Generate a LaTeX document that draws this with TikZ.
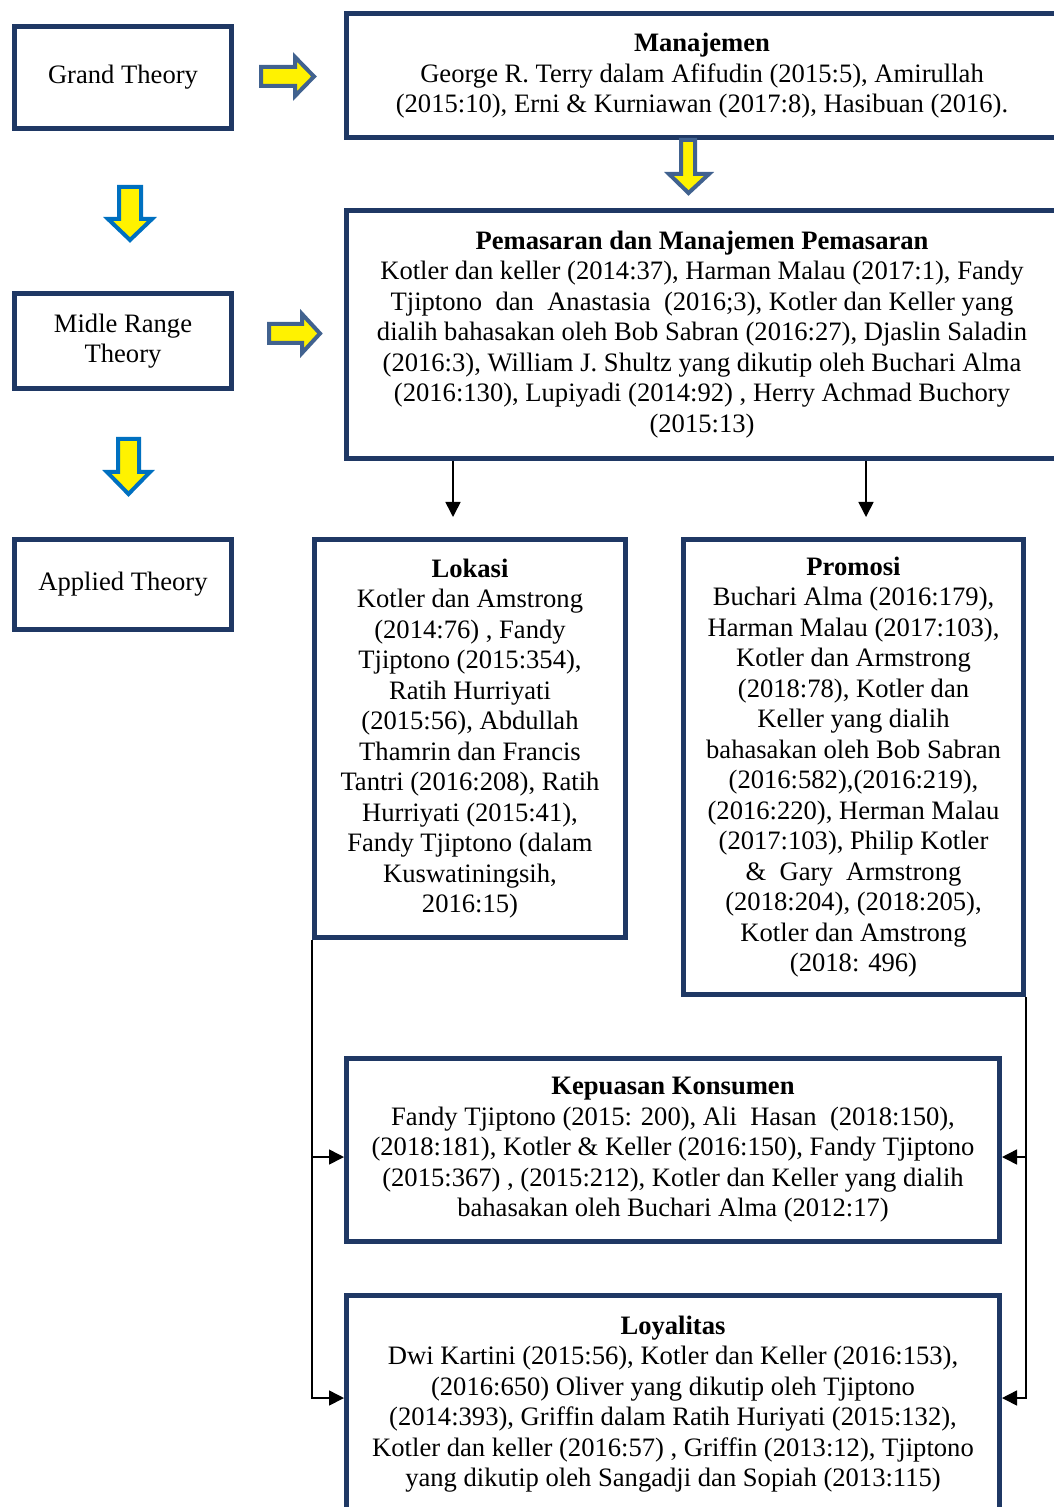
\documentclass[tikz,border=0pt]{standalone}
\usepackage{fontspec}
\setmainfont{Liberation Serif}
\usetikzlibrary{arrows.meta}
\definecolor{boxnavy}{RGB}{31,56,100}
\definecolor{arrowslate}{RGB}{65,98,143}
\definecolor{arrowblue}{RGB}{0,112,192}
\tikzset{
  theorybox/.style={draw=boxnavy, line width=2.5pt, align=center, inner sep=0pt,
    font=\fontsize{13.3}{15.25}\selectfont},
  blockright/.style={draw=arrowslate, fill=yellow, line width=2pt, line join=miter},
  blockdown/.style={draw=arrowblue, fill=yellow, line width=2pt, line join=miter},
  link/.style={line width=0.8pt, -{Triangle[length=7.5pt,width=7.5pt]}}
}
\begin{document}
\begin{tikzpicture}[x=0.5pt, y=-0.5pt]
    \useasboundingbox (0,0) rectangle (1053,1507);

    % theory levels
    \node[theorybox, minimum width=108.5pt, minimum height=51pt] (grand) at (123,77.5) {Grand Theory};
    \node[theorybox, minimum width=108.5pt, minimum height=47.5pt] (midle) at (123,341) {Midle Range\\Theory};
    \node[theorybox, minimum width=108.5pt, minimum height=45pt] (applied) at (123,584.5) {Applied Theory};

    \draw[blockdown] (119,187) -- (141,187) -- (141,219) -- (152,219) -- (130,240) -- (108,219) -- (119,219) -- cycle;
    \draw[blockdown] (118,439) -- (139,439) -- (139,472) -- (150,472) -- (128.5,494) -- (107,472) -- (118,472) -- cycle;

    \draw[blockright] (261,67) -- (295,67) -- (295,57) -- (314,76.5) -- (295,96) -- (295,86) -- (261,86) -- cycle;
    \draw[blockright] (269,324) -- (302,324) -- (302,314) -- (320,333.5) -- (302,353) -- (302,343) -- (269,343) -- cycle;

    % grand theory
    \node[theorybox, minimum width=355.75pt, minimum height=62pt] (manajemen) at (702,76)
        {\textbf{Manajemen}\\
         George R. Terry dalam Afifudin (2015:5), Amirullah\\
         (2015:10), Erni \& Kurniawan (2017:8), Hasibuan (2016).};

    \draw[blockright] (681,140) -- (695,140) -- (695,174) -- (709,174) -- (688.5,193) -- (669,174) -- (681,174) -- cycle;

    % midle range theory
    \node[theorybox, minimum width=355.75pt, minimum height=124pt] (pemasaran) at (702,334.5)
        {\textbf{Pemasaran dan Manajemen Pemasaran}\\
         Kotler dan keller (2014:37), Harman Malau (2017:1), Fandy\\
         Tjiptono\ \ dan\ \ Anastasia\ \ (2016;3), Kotler dan Keller yang\\
         dialih bahasakan oleh Bob Sabran (2016:27), Djaslin Saladin\\
         (2016:3), William J. Shultz yang dikutip oleh Buchari Alma\\
         (2016:130), Lupiyadi (2014:92) , Herry Achmad Buchory\\
         (2015:13)};

    % applied theory
    \node[theorybox, minimum width=155.5pt, minimum height=199pt] (lokasi) at (470,738.5)
        {\textbf{Lokasi}\\
         Kotler dan Amstrong\\
         (2014:76) , Fandy\\
         Tjiptono (2015:354),\\
         Ratih Hurriyati\\
         (2015:56), Abdullah\\
         Thamrin dan Francis\\
         Tantri (2016:208), Ratih\\
         Hurriyati (2015:41),\\
         Fandy Tjiptono (dalam\\
         Kuswatiningsih,\\
         2016:15)};

    \node[theorybox, minimum width=170pt, minimum height=227.5pt] (promosi) at (853.5,767)
        {\textbf{Promosi}\\
         Buchari Alma (2016:179),\\
         Harman Malau (2017:103),\\
         Kotler dan Armstrong\\
         (2018:78), Kotler dan\\
         Keller yang dialih\\
         bahasakan oleh Bob Sabran\\
         (2016:582),(2016:219),\\
         (2016:220), Herman Malau\\
         (2017:103), Philip Kotler\\
         \&\ \ Gary\ \ Armstrong\\
         (2018:204), (2018:205),\\
         Kotler dan Amstrong\\
         (2018: 496)};

    \node[theorybox, minimum width=326.5pt, minimum height=91.5pt] (kepuasan) at (673,1150)
        {\textbf{Kepuasan Konsumen}\\
         Fandy Tjiptono (2015: 200), Ali\ \ Hasan\ \ (2018:150),\\
         (2018:181), Kotler \& Keller (2016:150), Fandy Tjiptono\\
         (2015:367) , (2015:212), Kotler dan Keller yang dialih\\
         bahasakan oleh Buchari Alma (2012:17)};

    \node[theorybox, minimum width=326.5pt, minimum height=108.25pt] (loyalitas) at (673,1404)
        {\textbf{Loyalitas}\\
         Dwi Kartini (2015:56), Kotler dan Keller (2016:153),\\
         (2016:650) Oliver yang dikutip oleh Tjiptono\\
         (2014:393), Griffin dalam Ratih Huriyati (2015:132),\\
         Kotler dan keller (2016:57) , Griffin (2013:12), Tjiptono\\
         yang dikutip oleh Sangadji dan Sopiah (2013:115)};

    % connectors
    \coordinate (lokasiIn) at (453,517);
    \coordinate (promosiIn) at (866,517);
    \draw[link] (lokasiIn |- pemasaran.south) -- (lokasiIn);
    \draw[link] (promosiIn |- pemasaran.south) -- (promosiIn);

    \draw[link] (lokasi.south west) |- ([yshift=-3.5pt]kepuasan.west);
    \draw[link] (lokasi.south west) |- ([yshift=3pt]loyalitas.west);
    \draw[link] (promosi.south east) |- ([yshift=-3.5pt]kepuasan.east);
    \draw[link] (promosi.south east) |- ([yshift=3pt]loyalitas.east);
\end{tikzpicture}
\end{document}
